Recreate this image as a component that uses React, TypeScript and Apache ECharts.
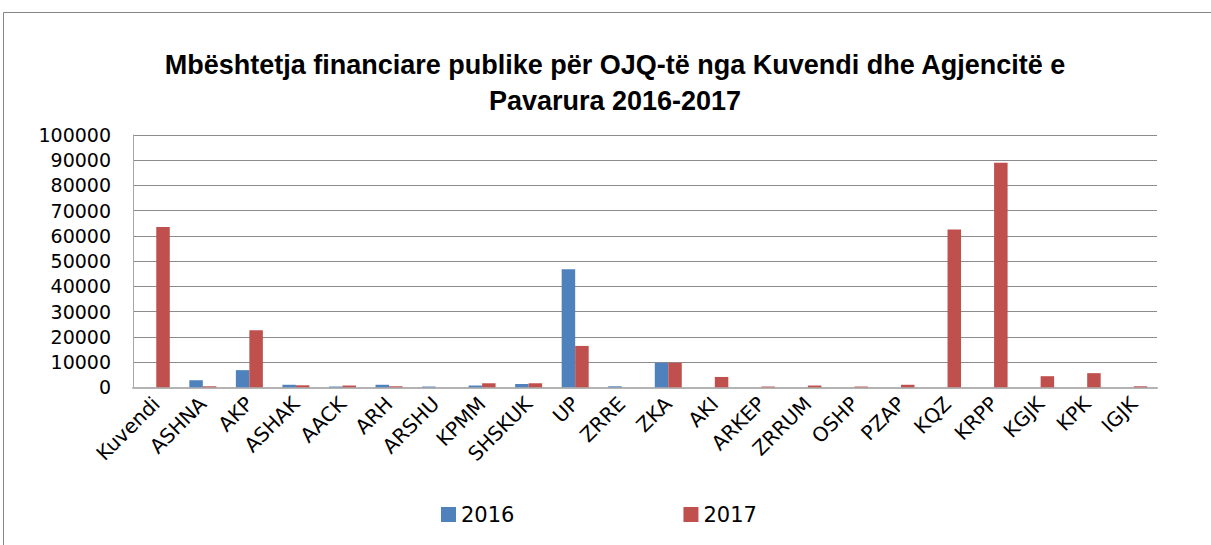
import React, { useEffect, useRef } from "react";
import * as echarts from "echarts";

const categories = ["Kuvendi", "ASHNA", "AKP", "ASHAK", "AACK", "ARH", "ARSHU", "KPMM", "SHSKUK", "UP", "ZRRE", "ZKA", "AKI", "ARKEP", "ZRRUM", "OSHP", "PZAP", "KQZ", "KRPP", "KGJK", "KPK", "IGJK"];
const values2016 = [0, 2800, 6800, 1000, 300, 1000, 300, 700, 1300, 46800, 400, 9700, 0, 0, 0, 0, 0, 0, 0, 0, 0, 0];
const values2017 = [63500, 400, 22600, 800, 700, 400, 0, 1600, 1600, 16400, 0, 9700, 4100, 300, 700, 300, 1000, 62500, 89000, 4400, 5600, 400];
const seriesNames = ["2016", "2017"];
const titleText = "Mbështetja financiare publike për OJQ-të nga Kuvendi dhe Agjencitë e\nPavarura 2016-2017";

export default function App() {
  const ref = useRef<HTMLDivElement>(null);
  useEffect(() => {
    document.body.style.margin = "0";
    const chart = echarts.init(ref.current!, null, { renderer: "svg" });
    const font = "'DejaVu Sans', sans-serif";
    chart.setOption({
      animation: false,
      backgroundColor: "#ffffff",
      title: {
        text: titleText,
        left: 610,
        textAlign: "center",
        top: 42,
        padding: 5,
        textStyle: {
          fontFamily: "'Liberation Sans', Arial, sans-serif",
          fontWeight: "bold",
          fontSize: 27,
          lineHeight: 36,
          color: "#000000",
        },
      },
      graphic: [
        {
          type: "rect",
          shape: { x: 3.5, y: 12.5, width: 1400, height: 700 },
          style: { fill: "none", stroke: "#868686", lineWidth: 1 },
          silent: true,
          z: -1,
        },
      ],
      legend: {
        data: seriesNames,
        left: 436,
        top: 499,
        itemWidth: 15,
        itemHeight: 15,
        itemGap: 169,
        icon: "rect",
        textStyle: { fontFamily: font, fontSize: 21, color: "#000000" },
      },
      grid: { left: 133, top: 135, width: 1024, height: 252.3, containLabel: false },
      xAxis: {
        type: "category",
        data: categories,
        axisLine: { show: true, lineStyle: { color: "#b3b3b3", width: 2 } },
        axisTick: { show: false },
        axisLabel: {
          interval: 0,
          rotate: 45,
          margin: 13,
          fontFamily: font,
          fontSize: 20,
          color: "#000000",
        },
      },
      yAxis: {
        type: "value",
        min: 0,
        max: 100000,
        interval: 10000,
        axisLine: { show: true, lineStyle: { color: "#a6a6a6", width: 1 } },
        axisTick: { show: false },
        splitLine: { show: true, lineStyle: { color: "#8c8c8c", width: 1 } },
        axisLabel: {
          margin: 22,
          fontFamily: font,
          fontSize: 19,
          color: "#000000",
          formatter: (v: number) => String(v),
        },
      },
      series: [
        {
          name: seriesNames[0],
          type: "bar",
          data: values2016,
          barWidth: 13.5,
          barGap: "0%",
          itemStyle: { color: "#4f81bd" },
        },
        {
          name: seriesNames[1],
          type: "bar",
          data: values2017,
          barWidth: 13.5,
          barGap: "0%",
          itemStyle: { color: "#c0504d" },
        },
      ],
    });
    return () => chart.dispose();
  }, []);
  return <div ref={ref} style={{ width: 1211, height: 545 }} />;
}
